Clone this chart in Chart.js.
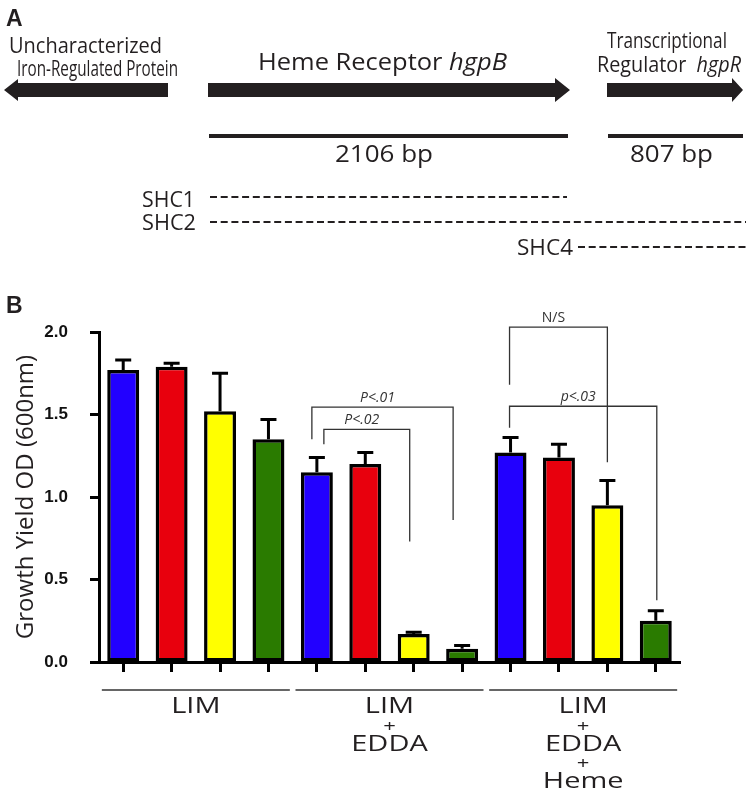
<!DOCTYPE html>
<html>
<head>
<meta charset="utf-8">
<script src="https://cdn.jsdelivr.net/npm/chart.js@4.4.0/dist/chart.umd.min.js"></script>
<style>
  body { margin: 0; background: #fff; }
</style>
</head>
<body>
<canvas id="mycanvas" width="756" height="793"></canvas>
<script>
// panel B data
var categories = ['LIM 1', 'LIM 2', 'LIM 3', 'LIM 4',
                  'EDDA 1', 'EDDA 2', 'EDDA 3', 'EDDA 4',
                  'Heme 1', 'Heme 2', 'Heme 3', 'Heme 4'];
var growth = [1.77, 1.79, 1.52, 1.35, 1.15, 1.20, 0.17, 0.08, 1.27, 1.24, 0.95, 0.25];
var sem    = [0.06, 0.02, 0.23, 0.12, 0.09, 0.07, 0.01, 0.02, 0.09, 0.08, 0.15, 0.06];
var barColors = ['#2200ff', '#e8000d', '#ffff00', '#2a7b00',
                 '#2200ff', '#e8000d', '#ffff00', '#2a7b00',
                 '#2200ff', '#e8000d', '#ffff00', '#2a7b00'];
var yTicks = [0, 0.5, 1.0, 1.5, 2.0];
var groups = [['LIM'], ['LIM', '+', 'EDDA'], ['LIM', '+', 'EDDA', '+', 'Heme']];

// significance brackets: bar index from/to, height, leg ends, label
var bracketFrom  = [4, 4, 8, 8];
var bracketTo    = [7, 6, 10, 11];
var bracketY     = [1.545, 1.41, 2.03, 1.55];
var bracketFromY = [1.35, 1.32, 1.68, 1.42];
var bracketToY   = [0.86, 0.73, 1.21, 0.375];
var bracketText  = ['P<.01', 'P<.02', 'N/S', 'p<.03'];

// panel A gene map
var genes = ['Uncharacterized Iron-Regulated Protein', 'Heme Receptor hgpB', 'Transcriptional Regulator hgpR'];
var geneLengths = ['2106 bp', '807 bp'];
var clones = ['SHC1', 'SHC2', 'SHC4'];

// draw text squeezed/stretched to a given width
function fitText(ctx, parts, x0, x1, base, size) {
  var total = 0;
  parts.forEach(function(p) {
    ctx.font = (p.italic ? 'italic ' : '') + size + 'px "Open Sans"';
    total += ctx.measureText(p.t).width;
  });
  var sx = (x1 - x0) / total;
  ctx.save();
  ctx.translate(x0, base);
  ctx.scale(sx, 1);
  var cx = 0;
  parts.forEach(function(p) {
    ctx.font = (p.italic ? 'italic ' : '') + size + 'px "Open Sans"';
    ctx.fillText(p.t, cx, 0);
    cx += ctx.measureText(p.t).width;
  });
  ctx.restore();
}

function arrow(ctx, xa, xb, yc, half, headHalf, headLen) {
  var dir = xb > xa ? 1 : -1;
  var hb = xb - dir * headLen;
  ctx.beginPath();
  ctx.moveTo(xa, yc - half);
  ctx.lineTo(hb, yc - half);
  ctx.lineTo(hb, yc - headHalf);
  ctx.lineTo(xb, yc);
  ctx.lineTo(hb, yc + headHalf);
  ctx.lineTo(hb, yc + half);
  ctx.lineTo(xa, yc + half);
  ctx.closePath();
  ctx.fill();
}

var panelA = {
  id: 'panelA',
  afterDraw: function(chart) {
    var ctx = chart.ctx;
    ctx.save();
    ctx.fillStyle = '#231f20';
    ctx.strokeStyle = '#231f20';
    ctx.textBaseline = 'alphabetic';
    ctx.font = 'bold 23px "Liberation Sans"';
    ctx.fillText('A', 6, 26);
    ctx.fillText('B', 6, 313);

    arrow(ctx, 168, 4, 90, 7, 11, 14);
    arrow(ctx, 208, 570, 90, 7, 12, 15);
    arrow(ctx, 607, 743, 90, 7, 12, 11);

    fitText(ctx, [{t: 'Uncharacterized'}], 9, 162, 53, 22);
    fitText(ctx, [{t: 'Iron-Regulated Protein'}], 17, 178, 76, 22);
    fitText(ctx, [{t: 'Heme Receptor '}, {t: 'hgpB', italic: true}], 258, 507, 70, 24);
    fitText(ctx, [{t: 'Transcriptional'}], 607, 727, 48, 22);
    fitText(ctx, [{t: 'Regulator  '}, {t: 'hgpR', italic: true}], 597, 741, 72, 22);

    ctx.lineWidth = 4;
    ctx.beginPath();
    ctx.moveTo(209, 136); ctx.lineTo(568, 136);
    ctx.moveTo(608, 136); ctx.lineTo(743, 136);
    ctx.stroke();
    fitText(ctx, [{t: geneLengths[0]}], 335, 433, 162, 24);
    fitText(ctx, [{t: geneLengths[1]}], 630, 713, 162, 24);

    fitText(ctx, [{t: clones[0]}], 142, 195, 207, 22);
    fitText(ctx, [{t: clones[1]}], 142, 196, 230, 22);
    fitText(ctx, [{t: clones[2]}], 517, 573, 255, 22);
    ctx.lineWidth = 2;
    ctx.setLineDash([7, 3.7]);
    ctx.beginPath();
    ctx.moveTo(210, 197); ctx.lineTo(567, 197);
    ctx.moveTo(210, 222); ctx.lineTo(746, 222);
    ctx.moveTo(578, 247); ctx.lineTo(746, 247);
    ctx.stroke();
    ctx.restore();
  }
};

var errorBars = {
  id: 'errorBars',
  afterDatasetsDraw: function(chart) {
    var ctx = chart.ctx, y = chart.scales.y;
    var meta = chart.getDatasetMeta(0);
    ctx.save();
    ctx.strokeStyle = '#000';
    ctx.lineWidth = 3;
    meta.data.forEach(function(bar, i) {
      var top = y.getPixelForValue(growth[i]);
      var end = y.getPixelForValue(growth[i] + sem[i]);
      ctx.beginPath();
      ctx.moveTo(bar.x, top); ctx.lineTo(bar.x, end);
      ctx.moveTo(bar.x - 8, end); ctx.lineTo(bar.x + 8, end);
      ctx.stroke();
    });
    ctx.restore();
  }
};

var bracketOffsets = [[-5, -9], [7, -4], [-1, 0], [-1, 1]];
var brackets = {
  id: 'brackets',
  afterDraw: function(chart) {
    var ctx = chart.ctx, y = chart.scales.y;
    var meta = chart.getDatasetMeta(0);
    ctx.save();
    ctx.strokeStyle = '#333';
    ctx.fillStyle = '#333';
    ctx.lineWidth = 1.3;
    ctx.textAlign = 'center';
    ctx.textBaseline = 'alphabetic';
    for (var i = 0; i < bracketText.length; i++) {
      var xa = meta.data[bracketFrom[i]].x + bracketOffsets[i][0];
      var xb = meta.data[bracketTo[i]].x + bracketOffsets[i][1];
      var yy = y.getPixelForValue(bracketY[i]);
      ctx.beginPath();
      ctx.moveTo(xa, y.getPixelForValue(bracketFromY[i]));
      ctx.lineTo(xa, yy);
      ctx.lineTo(xb, yy);
      ctx.lineTo(xb, y.getPixelForValue(bracketToY[i]));
      ctx.stroke();
      var t = bracketText[i];
      var italic = t.charAt(0).toLowerCase() === 'p';
      ctx.font = (italic ? 'italic ' : '') + '14px "Open Sans"';
      ctx.fillText(t, (xa + xb) / 2 - 5, yy - 5);
    }
    ctx.restore();
  }
};

var groupLabels = {
  id: 'groupLabels',
  afterDraw: function(chart) {
    var ctx = chart.ctx;
    var meta = chart.getDatasetMeta(0);
    ctx.save();
    ctx.strokeStyle = '#333';
    ctx.fillStyle = '#231f20';
    ctx.lineWidth = 1.3;
    ctx.textBaseline = 'alphabetic';
    ctx.textAlign = 'center';
    groups.forEach(function(lines, g) {
      var cx = (meta.data[g * 4].x + meta.data[g * 4 + 3].x) / 2;
      ctx.beginPath();
      ctx.moveTo(cx - 94, 690); ctx.lineTo(cx + 94, 690);
      ctx.stroke();
      lines.forEach(function(t, k) {
        ctx.save();
        ctx.translate(cx, 713 + k * 18.75);
        ctx.scale(1.38, 1);
        ctx.font = (t === '+' ? '16px' : '21px') + ' "Open Sans"';
        ctx.fillText(t, 0, 0);
        ctx.restore();
      });
    });
    ctx.restore();
  }
};

var ctx = document.getElementById('mycanvas');
var barGraph = new Chart(ctx, {
  type: 'bar',
  data: {
    labels: categories,
    datasets: [{
      data: growth,
      backgroundColor: barColors,
      borderColor: '#000',
      borderWidth: 3.5,
      borderSkipped: false,
      barPercentage: 0.66,
      categoryPercentage: 1
    }]
  },
  options: {
    responsive: false,
    animation: false,
    devicePixelRatio: 1,
    layout: { padding: { top: 332, right: 76, left: 0, bottom: 0 } },
    plugins: { legend: { display: false }, tooltip: { enabled: false } },
    scales: {
      x: {
        offset: true,
        grid: { offset: false, drawOnChartArea: false, drawTicks: true, tickLength: 10, tickWidth: 3, tickColor: '#000' },
        border: { color: '#000', width: 3 },
        ticks: { display: false },
        afterFit: function(s) { s.height = 131; }
      },
      y: {
        min: 0,
        max: 2,
        afterBuildTicks: function(s) { s.ticks = yTicks.map(function(v) { return { value: v }; }); },
        ticks: {
          callback: function(v) { return Number(v).toFixed(1); },
          font: { family: 'Liberation Sans', size: 17, weight: 'bold' },
          color: '#111',
          padding: 22
        },
        grid: { drawOnChartArea: false, drawTicks: true, tickLength: 9, tickWidth: 3, tickColor: '#000' },
        border: { color: '#000', width: 3 },
        title: {
          display: true,
          text: 'Growth Yield OD (600nm)',
          font: { family: 'Open Sans', size: 24 },
          color: '#231f20',
          padding: { top: 12, bottom: 0 }
        },
        afterFit: function(s) { s.width = 99; }
      }
    }
  },
  plugins: [errorBars, brackets, groupLabels, panelA]
});
</script>
</body>
</html>
